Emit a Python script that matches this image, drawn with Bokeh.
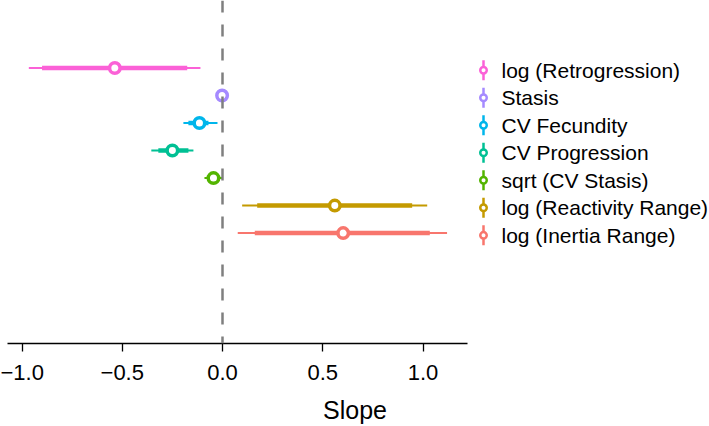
from bokeh.plotting import figure
from bokeh.models import ColumnDataSource, FixedTicker, Span
from bokeh.embed import file_html
from bokeh.resources import INLINE
from bokeh.core.properties import value

# ---------------- data ----------------
labels = ["log (Retrogression)", "Stasis", "CV Fecundity", "CV Progression",
          "sqrt (CV Stasis)", "log (Reactivity Range)", "log (Inertia Range)"]
colors = ["#FB61D7", "#A58AFF", "#00B6EB", "#00C094", "#53B400", "#C49A00", "#F8766D"]
estimate = [-0.537, -0.002, -0.115, -0.25, -0.045, 0.56, 0.602]
outer_lo = [-0.966, -0.025, -0.195, -0.355, -0.09, 0.098, 0.076]
outer_hi = [-0.11, 0.02, -0.025, -0.145, 0.0, 1.021, 1.12]
inner_lo = [-0.90, -0.015, -0.17, -0.32, -0.075, 0.173, 0.161]
inner_hi = [-0.176, 0.01, -0.07, -0.17, -0.02, 0.946, 1.034]
tick_values = [-1.0, -0.5, 0.0, 0.5, 1.0]
tick_labels = ["\u22121.0", "\u22120.5", "0.0", "0.5", "1.0"]

# ---------------- layout ----------------
FONT = "Liberation Sans"
n = len(labels)
row_y = [float(n - i) for i in range(n)]

W, H = 709, 426
PX_X = 200.5          # pixels per x unit
PX_Y = 27.6           # pixels per row
ZERO_PX = 222         # pixel position of x = 0
FRAME_H = 344
x_start = -ZERO_PX / PX_X
x_end = (W - ZERO_PX) / PX_X
axis_lo = (7 - ZERO_PX) / PX_X
axis_hi = (467 - ZERO_PX) / PX_X
y_end = row_y[0] + 67.7 / PX_Y
y_start = y_end - FRAME_H / PX_Y

src = ColumnDataSource(dict(y=row_y, est=estimate, olo=outer_lo, ohi=outer_hi,
                            ilo=inner_lo, ihi=inner_hi, color=colors, label=labels))

p = figure(width=W, height=H,
           x_range=(x_start, x_end), y_range=(y_start, y_end),
           y_axis_location=None, toolbar_location=None, output_backend="svg",
           min_border_left=0, min_border_right=0, min_border_top=0, min_border_bottom=0)
p.outline_line_color = None
p.xgrid.visible = False
p.ygrid.visible = False
p.background_fill_color = "white"
p.border_fill_color = "white"

# zero reference line
p.add_layout(Span(location=0, dimension="height", line_color="#7F7F7F",
                  line_width=2.5, line_dash="12 12"))

# intervals
p.segment(x0="olo", x1="ohi", y0="y", y1="y", color="color", line_width=2, source=src)
p.segment(x0="ilo", x1="ihi", y0="y", y1="y", color="color", line_width=4.5, source=src)
p.scatter(x="est", y="y", size=10.5, marker="circle", fill_color="white",
          line_color="color", line_width=3.5, source=src)

# legend (drawn as glyphs, to the right of the axis)
leg_gx = (483 - ZERO_PX) / PX_X
leg_tx = (501 - ZERO_PX) / PX_X
leg_y = [y - 2.2 / PX_Y for y in row_y]
lsrc = ColumnDataSource(dict(x=[leg_gx] * n, tx=[leg_tx] * n, y=leg_y,
                             y0=[y - 10 / PX_Y for y in leg_y],
                             y1=[y + 10 / PX_Y for y in leg_y],
                             color=colors, label=labels))
p.segment(x0="x", x1="x", y0="y0", y1="y1", color="color", line_width=2.5, source=lsrc)
p.scatter(x="x", y="y", size=6.5, marker="circle", fill_color="white",
          line_color="color", line_width=2.5, source=lsrc)
p.text(x="tx", y="y", text="label", source=lsrc, text_font=value(FONT),
       text_font_size="21px", text_baseline="middle", text_align="left",
       text_color="black")

# x axis
ax = p.xaxis[0]
ax.bounds = (axis_lo, axis_hi)
ax.ticker = FixedTicker(ticks=tick_values)
ax.major_label_overrides = {v: l for v, l in zip(tick_values, tick_labels)}
ax.minor_tick_line_color = None
ax.major_tick_in = 0
ax.major_tick_out = 8
ax.major_tick_line_width = 1.3
ax.major_tick_line_color = "black"
ax.axis_line_width = 1.3
ax.axis_line_color = "black"
ax.major_label_text_font = FONT
ax.major_label_text_font_size = "22px"
ax.major_label_text_color = "black"
ax.major_label_standoff = 13
ax.axis_label = "Slope"
ax.axis_label_text_font = FONT
ax.axis_label_text_font_size = "25px"
ax.axis_label_text_font_style = "normal"
ax.axis_label_text_color = "black"
ax.axis_label_standoff = 13

open("out.html", "w").write(file_html(p, INLINE))
